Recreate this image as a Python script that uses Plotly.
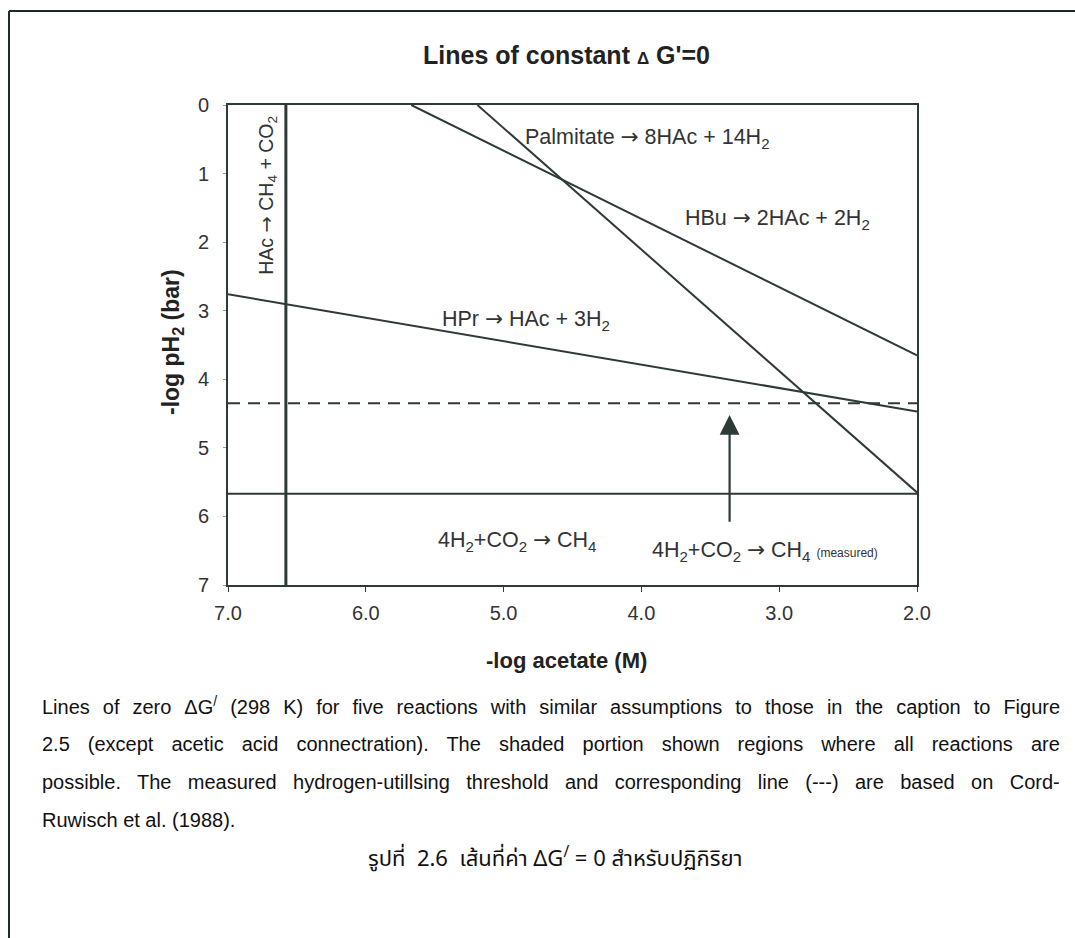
import plotly.graph_objects as go

# ---- data ----
hac_x = [6.58, 6.58]
hac_y = [0.0, 7.0]
hpr_x = [7.0, 2.0]
hpr_y = [2.76, 4.47]
hbu_x = [5.67, 2.0]
hbu_y = [0.0, 3.65]
palm_x = [5.19, 2.0]
palm_y = [0.0, 5.65]
meth_x = [7.0, 2.0]
meth_y = [5.67, 5.67]
meas_x = [7.0, 2.0]
meas_y = [4.35, 4.35]
arrow_x = 3.36
arrow_tail_y = 6.1
arrow_head_y = 4.52

x_ticks = [7.0, 6.0, 5.0, 4.0, 3.0, 2.0]
y_ticks = [0, 1, 2, 3, 4, 5, 6, 7]

caption_lines = [
    "Lines of zero ΔG<sup>/</sup> (298 K) for five reactions with similar assumptions to those in the caption to Figure",
    "2.5 (except acetic acid connectration). The shaded portion shown regions where all reactions are",
    "possible. The measured hydrogen-utillsing threshold and corresponding line (---) are based on Cord-",
    "Ruwisch et al. (1988).",
]
thai_caption = "รูปที่  2.6  เส้นที่ค่า ΔG<sup>/</sup> = 0 สำหรับปฏิกิริยา"

LINE = "#2e3a37"
TXT = "#333333"
FONT = "Liberation Sans, Arial, sans-serif"
ARW = "<span style='font-family:DejaVu Sans'>→</span>"

# Arial / Liberation Sans advance widths (1/1000 em) for justification
_W = {' ': 278, '(': 333, ')': 333, ',': 278, '-': 333, '.': 278, '/': 278, ':': 278,
      'A': 667, 'B': 667, 'C': 722, 'D': 722, 'E': 667, 'F': 611, 'G': 778, 'H': 722,
      'I': 278, 'J': 500, 'K': 667, 'L': 556, 'M': 833, 'N': 722, 'O': 778, 'P': 667,
      'Q': 778, 'R': 722, 'S': 667, 'T': 611, 'U': 722, 'V': 667, 'W': 944, 'X': 667,
      'Y': 667, 'Z': 611, 'a': 556, 'b': 556, 'c': 500, 'd': 556, 'e': 556, 'f': 278,
      'g': 556, 'h': 556, 'i': 222, 'j': 222, 'k': 500, 'l': 222, 'm': 833, 'n': 556,
      'o': 556, 'p': 556, 'q': 556, 'r': 333, 's': 500, 't': 278, 'u': 556, 'v': 500,
      'w': 722, 'x': 500, 'y': 500, 'z': 500, 'Δ': 668}

def text_width(s, size):
    import re
    w = 0.0
    for part in re.split(r"<sup>.*?</sup>", s):
        w += sum(_W.get(c, 556) for c in part) * size / 1000
    for sup in re.findall(r"<sup>(.*?)</sup>", s):
        w += sum(_W.get(c, 556) for c in sup) * size * 0.7 / 1000
    return w

fig = go.Figure()
for xs, ys, w, dash in [
    (hac_x, hac_y, 3, None),
    (hpr_x, hpr_y, 2, None),
    (hbu_x, hbu_y, 2, None),
    (palm_x, palm_y, 2, None),
    (meth_x, meth_y, 2, None),
    (meas_x, meas_y, 2, "12px,8px"),
]:
    fig.add_trace(go.Scatter(x=xs, y=ys, mode="lines",
                             line=dict(color=LINE, width=w, dash=dash),
                             showlegend=False, hoverinfo="skip"))

# plot area in pixels: x 228..917, y 105..585
L, R, T, B = 228, 917, 105, 585
W, H = R - L, B - T
def px(x):
    return (x - L) / W
def py(y):
    return (B - y) / H

ann = []
def lab(x, y, text, size=21.5, xanchor="left", **kw):
    ann.append(dict(x=x, y=y, xref="x", yref="y", text=text, showarrow=False,
                    xanchor=xanchor, yanchor="middle",
                    font=dict(size=size, color=TXT, family=FONT), **kw))

lab(4.86, 0.48, f"Palmitate {ARW} 8HAc + 14H<sub>2</sub>")
lab(3.70, 1.66, f"HBu {ARW} 2HAc + 2H<sub>2</sub>")
lab(5.46, 3.13, f"HPr {ARW} HAc + 3H<sub>2</sub>")
lab(5.49, 6.36, f"4H<sub>2</sub>+CO<sub>2</sub> {ARW} CH<sub>4</sub>")
lab(3.94, 6.5, f"4H<sub>2</sub>+CO<sub>2</sub> {ARW} CH<sub>4</sub> <span style='font-size:12px'>(measured)</span>")
lab(6.715, 1.32, f"HAc {ARW} CH<sub>4</sub> + CO<sub>2</sub>", size=19.5, xanchor="center", textangle=-90)

# arrow
ann.append(dict(x=arrow_x, y=arrow_head_y, ax=arrow_x, ay=arrow_tail_y,
                xref="x", yref="y", axref="x", ayref="y", text="",
                showarrow=True, arrowhead=2, arrowsize=1.8, arrowwidth=2.2,
                arrowcolor=LINE))

# title
ann.append(dict(x=px(566), y=py(55), xref="paper", yref="paper",
                text="<b>Lines of constant <span style='font-size:17px'>Δ</span> G'=0</b>",
                showarrow=False, xanchor="center", yanchor="middle",
                font=dict(size=25, color="#222", family=FONT)))
# axis titles
ann.append(dict(x=px(566), y=py(660), xref="paper", yref="paper",
                text="<b>-log acetate (M)</b>", showarrow=False,
                xanchor="center", yanchor="middle",
                font=dict(size=22, color="#222", family=FONT)))
ann.append(dict(x=px(172), y=py(342), xref="paper", yref="paper",
                text="<b>-log pH<sub>2</sub> (bar)</b>", showarrow=False,
                xanchor="center", yanchor="middle", textangle=-90,
                font=dict(size=23, color="#222", family=FONT)))

# caption (justified lines via word-spacing)
CAP_SIZE = 20
TARGET = 1058 - 40
for i, (t, ypix) in enumerate(zip(caption_lines, [705, 744, 782, 820])):
    txt = t
    if i < len(caption_lines) - 1:
        n_sp = t.replace("<sup>/</sup>", "").count(" ")
        extra = (TARGET - text_width(t, CAP_SIZE)) / max(n_sp, 1)
        txt = f"<span style='word-spacing:{extra:.2f}px'>{t}</span>"
    ann.append(dict(x=px(40), y=py(ypix), xref="paper", yref="paper",
                    text=txt, showarrow=False, xanchor="left", yanchor="middle",
                    font=dict(size=CAP_SIZE, color="#111", family=FONT)))
ann.append(dict(x=px(555), y=py(858), xref="paper", yref="paper",
                text=thai_caption, showarrow=False, xanchor="center", yanchor="middle",
                font=dict(size=22, color="#111", family="Noto Sans Thai, Noto Sans, DejaVu Sans, sans-serif")))

shapes = [
    dict(type="line", xref="paper", yref="paper", x0=px(9), x1=px(1075),
         y0=py(11), y1=py(11), line=dict(color="#1e2a27", width=2)),
    dict(type="line", xref="paper", yref="paper", x0=px(9), x1=px(9),
         y0=py(11), y1=py(938), line=dict(color="#1e2a27", width=2)),
]

fig.update_layout(
    width=1075, height=938,
    margin=dict(l=L, r=1075 - R, t=T, b=938 - B),
    paper_bgcolor="white", plot_bgcolor="white",
    annotations=ann, shapes=shapes,
    font=dict(family=FONT, color=TXT),
)
fig.update_xaxes(range=[7, 2], tickvals=x_ticks, ticktext=[f"{v:.1f}" for v in x_ticks],
                 showgrid=False, zeroline=False, showline=True, mirror=True,
                 linecolor=LINE, linewidth=2, ticks="outside", ticklen=5,
                 tickcolor=LINE, tickfont=dict(size=20, color=TXT),
                 ticklabelstandoff=4)
fig.update_yaxes(range=[7, 0], tickvals=y_ticks,
                 showgrid=False, zeroline=False, showline=True, mirror=True,
                 linecolor=LINE, linewidth=2, ticks="outside", ticklen=3,
                 tickcolor="#999", tickfont=dict(size=20, color=TXT),
                 ticklabelstandoff=10)

fig.write_html("out.html")
